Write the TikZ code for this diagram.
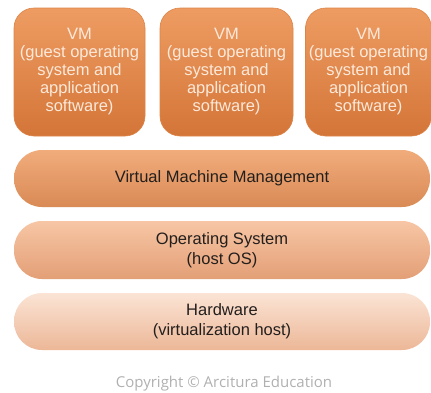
\documentclass[tikz,border=0pt]{standalone}
\usepackage{fontspec}
\newfontfamily\boxfont{Liberation Sans}
\newfontfamily\notefont{Open Sans}
\definecolor{vmtop}{HTML}{EE9C62}
\definecolor{vmbot}{HTML}{D47538}
\definecolor{vmrim}{HTML}{DC8448}
\definecolor{vmtext}{HTML}{FCE9DA}
\definecolor{mgmttop}{HTML}{F1AC7C}
\definecolor{mgmtbot}{HTML}{D98A55}
\definecolor{ostop}{HTML}{F7C6A5}
\definecolor{osbot}{HTML}{E39F76}
\definecolor{hwtop}{HTML}{FBE4D5}
\definecolor{hwbot}{HTML}{ECB797}
\definecolor{layertext}{HTML}{231F1D}
\definecolor{notegray}{HTML}{B0B0B0}

\tikzset{
  vmbox/.style={rounded corners=20pt, minimum height=128pt, align=center,
    top color=vmtop, bottom color=vmbot, draw=vmrim, line width=0.6pt,
    text=vmtext, font=\boxfont\fontsize{16.5}{18}\selectfont},
  layer/.style={rounded corners=28pt, minimum width=416pt, minimum height=57pt,
    align=center, text=layertext, font=\boxfont\fontsize{16.5}{20}\selectfont},
}

\begin{document}
\begin{tikzpicture}[x=1pt, y=-1pt]
        \useasboundingbox (0,0) rectangle (431,392);
        % guest machines
        \node[vmbox, minimum width=131pt] (vm1) at (79.5,72)
          {VM\\(guest operating\\system and\\application\\software)};
        \node[vmbox, minimum width=133pt] (vm2) at (226.5,72)
          {VM\\(guest operating\\system and\\application\\software)};
        \node[vmbox, minimum width=123pt] (vm3) at (368.5,72)
          {VM\\(guest operating\\system and\\application\\software)};
        % layers below
        \node[layer, top color=mgmttop, bottom color=mgmtbot] (vmm) at (222,178.5)
          {Virtual Machine Management};
        \node[layer, minimum height=58pt, top color=ostop, bottom color=osbot] (hostos) at (222,250)
          {Operating System\\(host OS)};
        \node[layer, top color=hwtop, bottom color=hwbot] (hw) at (222,321.5)
          {Hardware\\(virtualization host)};
        % note
        \node[text=notegray, font=\notefont\fontsize{15}{17}\selectfont] (copy) at (224,384)
          {Copyright © Arcitura Education};
      \end{tikzpicture}
\end{document}
